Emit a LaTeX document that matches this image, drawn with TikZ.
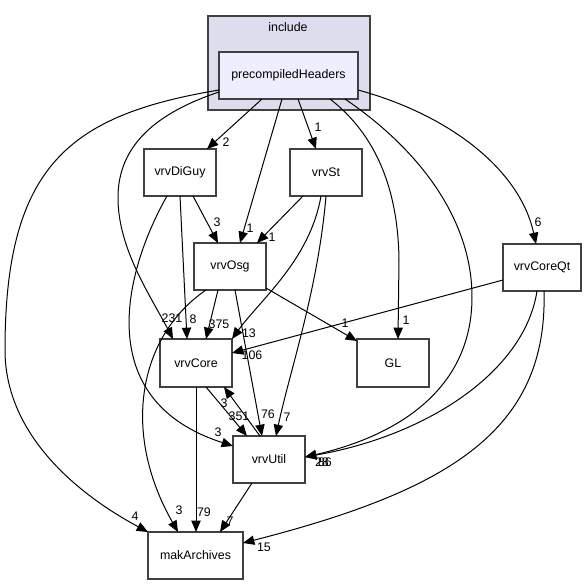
\documentclass[tikz,border=0pt]{standalone}
\usepackage{fontspec}
\setmainfont{Liberation Sans}
\usetikzlibrary{arrows.meta,calc}
\definecolor{boxgray}{HTML}{404040}
\definecolor{clusterfill}{HTML}{DDDDEE}
\definecolor{phfill}{HTML}{EEEEFF}
\begin{document}
\begin{tikzpicture}[x=0.75pt,y=-0.75pt,
  box/.style={draw=boxgray,line width=1pt,fill=white,minimum width=54pt,minimum height=35.25pt,inner sep=0pt,font=\fontsize{9.3}{10}\selectfont},
  edge/.style={draw=black,line width=0.75pt,-{Triangle[length=8.5pt,width=7pt]}},
  lbl/.style={inner sep=0pt,font=\fontsize{9.3}{10}\selectfont}]
\useasboundingbox[fill=white] (0,0) rectangle (587,585);
% cluster
\node[draw=boxgray,line width=1pt,fill=clusterfill,minimum width=121.5pt,minimum height=70.5pt,inner sep=0pt] (incl) at (289,63) {};
\node[lbl] (incllbl) at (288,27) {include};
% nodes
\node[box,fill=phfill,minimum width=104.25pt] (pH) at (288.5,75.5) {precompiledHeaders};
\node[box] (DG) at (180,172.5) {vrvDiGuy};
\node[box] (St) at (326,172.5) {vrvSt};
\node[box] (Osg) at (230,266.5) {vrvOsg};
\node[box,minimum width=58.5pt] (CQt) at (542,267.5) {vrvCoreQt};
\node[box,minimum height=36pt] (Core) at (196,363) {vrvCore};
\node[box,minimum height=36pt] (GL) at (393,363) {GL};
\node[box] (Util) at (269,459.5) {vrvUtil};
\node[box,minimum width=71.25pt] (mak) at (195.5,555.5) {makArchives};
% edges
\draw[edge] ($(pH)+(-26.5,23.5)$) -- ($(DG)+(27,-23.5)$);
\draw[edge] ($(pH)+(9.5,23.5)$) -- ($(St)+(-10,-23.5)$);
\draw[edge] ($(pH)+(-6.5,23.5)$) -- ($(Osg)+(10,-23.5)$);
\draw[edge] ($(DG)+(13,23.5)$) -- ($(Osg)+(-12,-23.5)$);
\draw[edge] ($(St)+(-23,23.5)$) -- ($(Osg)+(27,-23.5)$);
\draw[edge] ($(pH)+(-69.5,16.5)$) .. controls (150,115) and (117,150) .. (118,200) .. controls (119,250) and (150,295) .. ($(Core)+(-23,-24)$);
\draw[edge] ($(pH)+(-69.5,14.5)$) .. controls (70,115) and (5,165) .. (5,350) .. controls (5,430) and (70,490) .. ($(mak)+(-47.5,-23.5)$);
\draw[edge] ($(pH)+(56.5,23.5)$) .. controls (420,150) and (472,220) .. (472,297) .. controls (472,400) and (380,440) .. ($(Util)+(36,-2.5)$);
\draw[edge] ($(CQt)+(-5,23.5)$) .. controls (525,370) and (430,435) .. ($(Util)+(36,-2.5)$);
\draw[edge] ($(CQt)+(2,23.5)$) .. controls (548,430) and (450,490) .. ($(mak)+(47.5,-12.5)$);
\draw[edge] ($(CQt)+(-39,12.5)$) -- ($(Core)+(36,-10)$);
\draw[edge] ($(pH)+(41.5,23.5)$) .. controls (370,130) and (398,180) .. (399,260) -- ($(GL)+(5,-24)$);
\draw[edge] ($(pH)+(69.5,14.5)$) .. controls (450,115) and (520,170) .. ($(CQt)+(-6,-23.5)$);
\draw[edge] ($(Osg)+(-12,23.5)$) -- ($(Core)+(10,-24)$);
\draw[edge] ($(DG)+(0,23.5)$) -- ($(Core)+(-9,-24)$);
\draw[edge] ($(St)+(-5,23.5)$) .. controls (310,260) and (260,300) .. ($(Core)+(36,-24)$);
\draw[edge] ($(St)+(0,23.5)$) .. controls (318,290) and (290,370) .. ($(Util)+(7,-23.5)$);
\draw[edge] ($(Osg)+(5,23.5)$) -- ($(Util)+(-7,-23.5)$);
\draw[edge] ($(Osg)+(36,21.5)$) -- ($(GL)+(-36,-22)$);
\draw[edge] ($(Osg)+(-24,23.5)$) .. controls (140,335) and (120,430) .. ($(mak)+(-17.5,-23.5)$);
\draw[edge] ($(DG)+(-13,23.5)$) .. controls (125,270) and (90,400) .. ($(Util)+(-36,-13.5)$);
\draw[edge] ($(Core)+(10,24)$) -- ($(Util)+(-22,-23.5)$);
\draw[edge] ($(Util)+(-9,-23.5)$) -- ($(Core)+(28,24)$);
\draw[edge] ($(Core)+(0,24)$) -- ($(mak)+(0.5,-23.5)$);
\draw[edge] ($(Util)+(-17,23.5)$) -- ($(mak)+(24.5,-23.5)$);
% labels
\node[lbl] (l1) at (226,142) {2};
\node[lbl] (l2) at (318,127) {1};
\node[lbl] (l3) at (250,228) {1};
\node[lbl] (l4) at (217,222) {3};
\node[lbl] (l5) at (272,237) {1};
\node[lbl] (l6) at (172,318) {231};
\node[lbl] (l7) at (135,516) {4};
\node[lbl] (l8) at (322,462) {28};
\node[lbl] (l9) at (325,462) {86};
\node[lbl] (l10) at (264,547) {15};
\node[lbl] (l11) at (252,355) {106};
\node[lbl] (l12) at (406,320) {1};
\node[lbl] (l13) at (538,222) {6};
\node[lbl] (l14) at (219,324) {375};
\node[lbl] (l15) at (193,319) {8};
\node[lbl] (l16) at (249,333) {13};
\node[lbl] (l17) at (287,417) {7};
\node[lbl] (l18) at (268,414) {76};
\node[lbl] (l19) at (345,323) {1};
\node[lbl] (l20) at (179,510) {3};
\node[lbl] (l21) at (218,432) {3};
\node[lbl] (l22) at (239,416) {351};
\node[lbl] (l23) at (224,403) {3};
\node[lbl] (l24) at (204,512) {79};
\node[lbl] (l25) at (230,521) {7};
\end{tikzpicture}
\end{document}
